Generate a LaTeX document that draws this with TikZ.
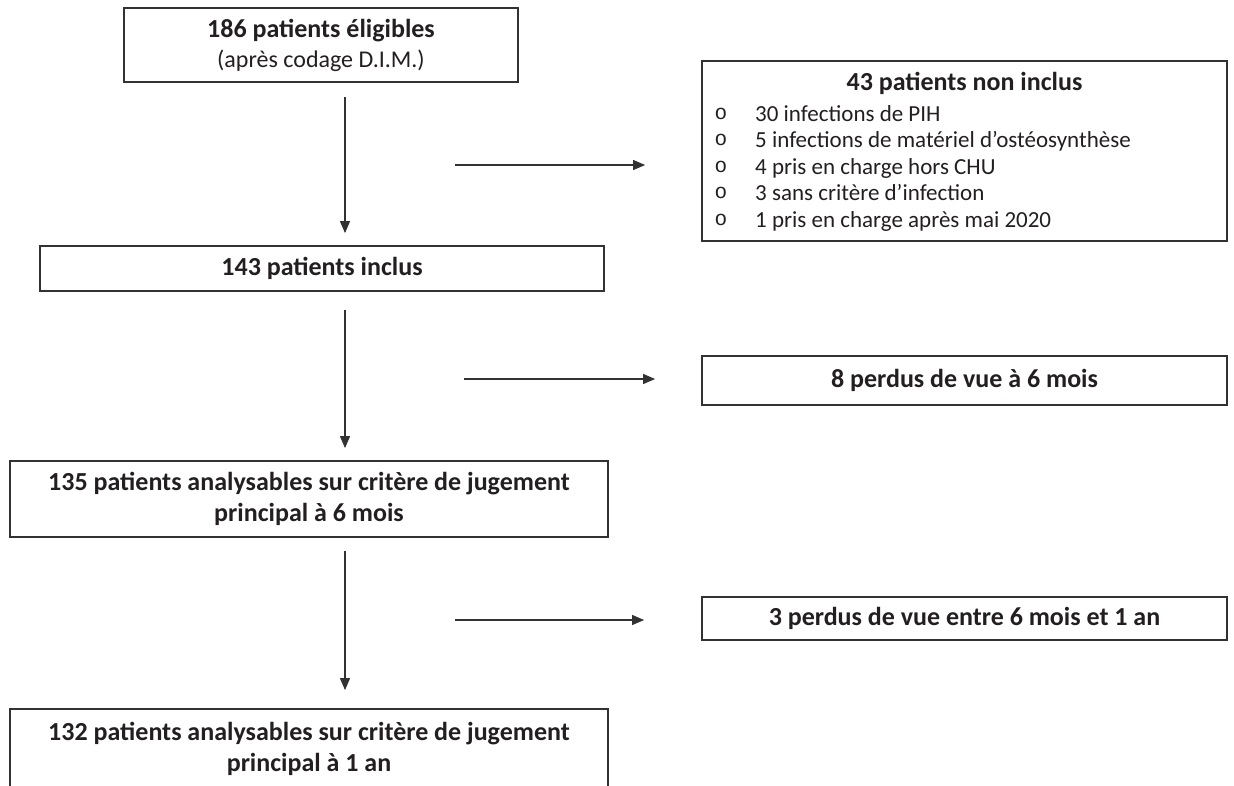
\documentclass[tikz,border=0pt]{standalone}
\usepackage{fontspec}
\setmainfont{Carlito}
\newfontfamily\bulletfont{Liberation Mono}
\usetikzlibrary{arrows.meta}

\definecolor{ink}{RGB}{35,31,32}
\definecolor{edge}{RGB}{50,50,50}

\begin{document}
\begin{tikzpicture}[x = 1pt, y = -1pt, > = {Triangle[length = 12pt, width = 10pt]},
	box/.style = {draw = edge, line width = 1.8pt, align = center, inner sep = 0pt, text = ink,
		font = \fontsize{26}{31}\selectfont\bfseries},
	flow/.style = {->, draw = edge, line width = 1.1pt}]

	% Page
	
	\useasboundingbox (0, 0) rectangle (1234, 785);
	\clip (0, 0) rectangle (1234, 785);

	% Main column
	
	\node [box, minimum width = 394, minimum height = 74] (elig) at (321, 45)
		{186 patients éligibles\\[-1pt]{\mdseries\fontsize{24}{29}\selectfont (après codage D.I.M.)}};
	\node [box, minimum width = 564, minimum height = 45] (incl) at (322, 268.5)
		{143 patients inclus};
	\node [box, minimum width = 598, minimum height = 76] (analys6) at (309, 499)
		{135 patients analysables sur critère de jugement\\principal à 6 mois};
	\node [box, minimum width = 598, minimum height = 80] (analys1) at (309, 749)
		{132 patients analysables sur critère de jugement\\principal à 1 an};

	% Side boxes
	
	\node [box, minimum width = 525, minimum height = 180] (nonincl) at (964.5, 151) {};
	\node [box, minimum width = 525, minimum height = 49] (perdus6) at (964.5, 380.5)
		{8 perdus de vue à 6 mois};
	\node [box, minimum width = 525, minimum height = 43] (perdus1) at (964.5, 618.5)
		{3 perdus de vue entre 6 mois et 1 an};

	% Reasons for non inclusion
	
	\node [text = ink, font = \fontsize{26}{31}\selectfont\bfseries] (nonincltitle) at (964.5, 83)
		{43 patients non inclus};
	\foreach \i/\reason in {0/30 infections de PIH, 1/5 infections de matériel d’ostéosynthèse,
		2/4 pris en charge hors CHU, 3/3 sans critère d’infection, 4/1 pris en charge après mai 2020}
	{
		\node [text = ink, font = \bulletfont\fontsize{21}{23}\selectfont, anchor = base] (bul\i)
			at (721, 119 + 26.5 * \i) {o};
		\node [text = ink, font = \fontsize{23}{27}\selectfont, anchor = base west, inner xsep = 0pt] (reason\i)
			at (755, 121 + 26.5 * \i) {\reason};
	}

	% Vertical arrows
	
	\coordinate (spine) at (345, 0);
	\draw [flow, shorten < = 14pt, shorten > = 12pt] (elig.south -| spine) -- (incl.north -| spine);
	\draw [flow, shorten < = 18pt, shorten > = 12pt] (incl.south -| spine) -- (analys6.north -| spine);
	\draw [flow, shorten < = 13pt, shorten > = 18pt] (analys6.south -| spine) -- (analys1.north -| spine);

	% Horizontal arrows
	
	\coordinate (out1) at (455, 165);
	\coordinate (out2) at (464, 379);
	\coordinate (out3) at (455, 620);
	\draw [flow, shorten > = 56pt] (out1) -- (out1 -| nonincl.west);
	\draw [flow, shorten > = 46pt] (out2) -- (out2 -| perdus6.west);
	\draw [flow, shorten > = 57pt] (out3) -- (out3 -| perdus1.west);

\end{tikzpicture}
\end{document}
